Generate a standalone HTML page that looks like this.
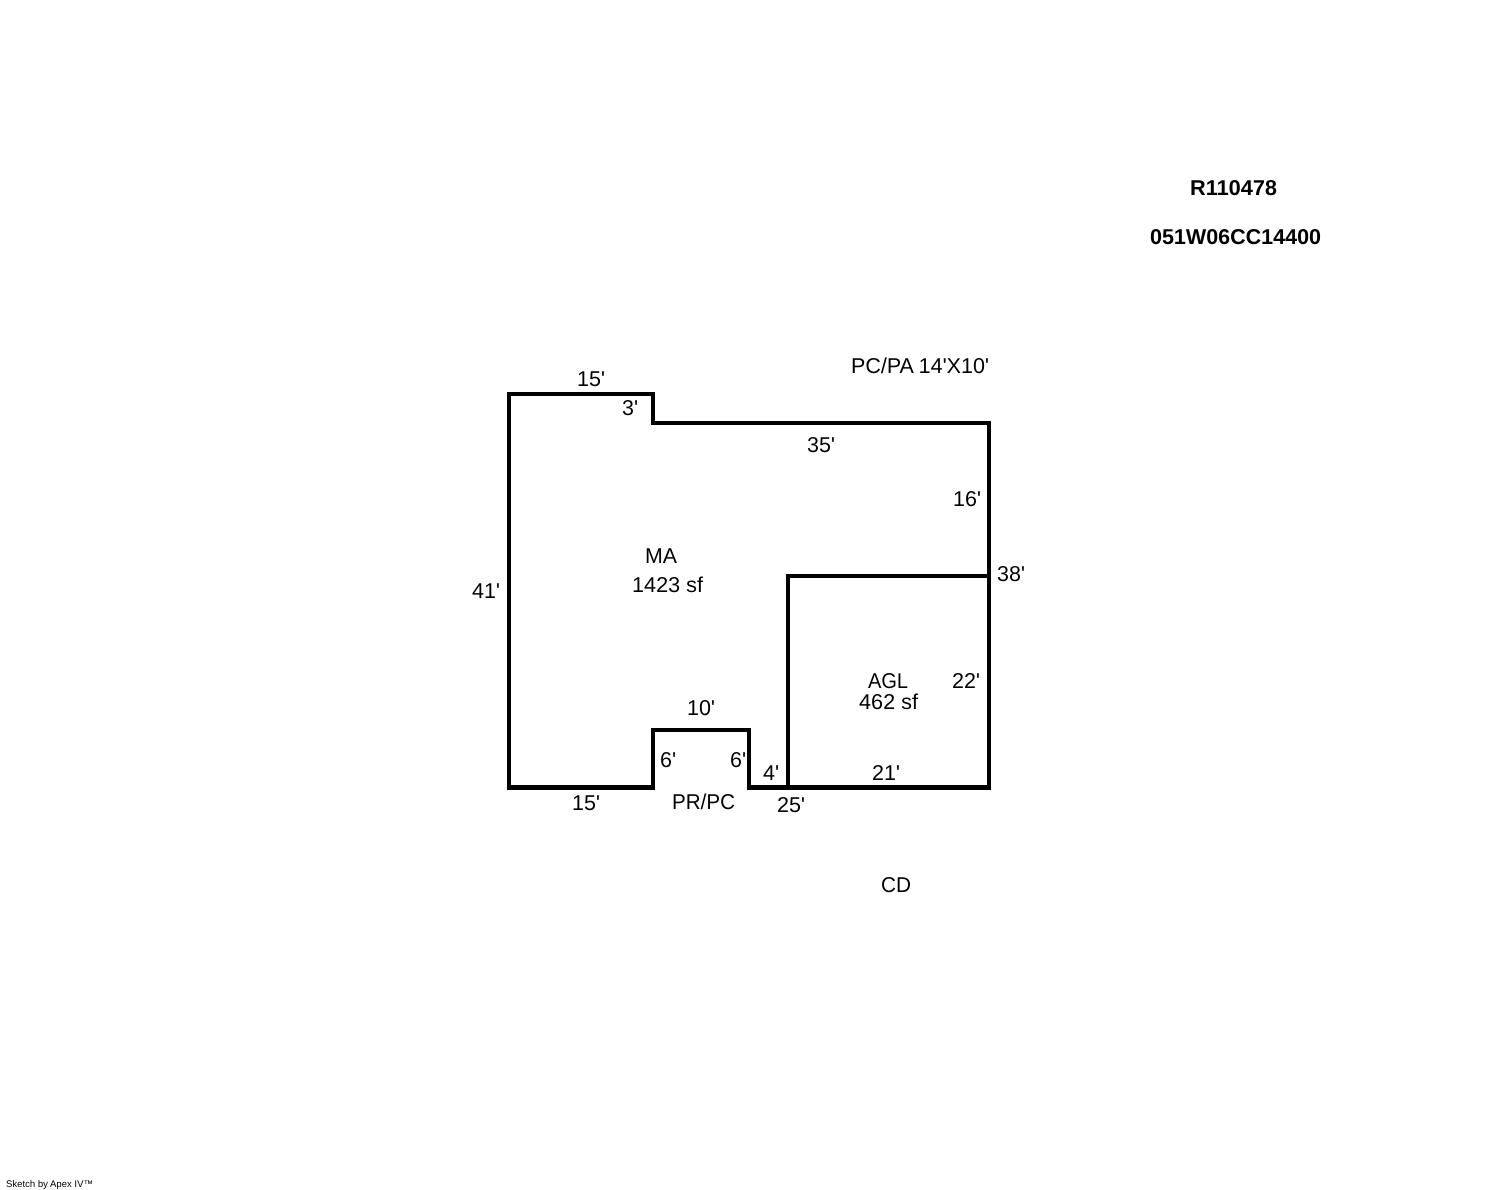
<!DOCTYPE html>
<html>
<head>
<meta charset="utf-8">
<style>
html,body{margin:0;padding:0;background:#fff}
svg{display:block}
text{font-family:"Liberation Sans",Arial,sans-serif;font-size:21.5px;fill:#000;text-rendering:geometricPrecision}
.b{font-weight:bold}
</style>
</head>
<body>
<svg width="1488" height="1190" viewBox="0 0 1488 1190" xmlns="http://www.w3.org/2000/svg">
<rect width="1488" height="1190" fill="#fff"/>
<g fill="#000" shape-rendering="crispEdges">
<rect x="507" y="392" width="4" height="398"/>
<rect x="507" y="392" width="148" height="4"/>
<rect x="651" y="392" width="4" height="33"/>
<rect x="651" y="421" width="340" height="4"/>
<rect x="987" y="421" width="4" height="369"/>
<rect x="507" y="785" width="148" height="5"/>
<rect x="651" y="728" width="4" height="62"/>
<rect x="651" y="728" width="100" height="4"/>
<rect x="747" y="728" width="4" height="62"/>
<rect x="747" y="785" width="244" height="5"/>
<rect x="786" y="574" width="205" height="4"/>
<rect x="786" y="574" width="4" height="216"/>
</g>
<text class="b" x="1190" y="195" textLength="87" lengthAdjust="spacingAndGlyphs">R110478</text>
<text class="b" x="1150" y="244" textLength="171" lengthAdjust="spacingAndGlyphs">051W06CC14400</text>
<text x="851" y="373" textLength="138" lengthAdjust="spacingAndGlyphs">PC/PA 14'X10'</text>
<text x="577" y="386">15'</text>
<text x="622" y="415">3'</text>
<text x="807" y="452">35'</text>
<text x="953" y="506">16'</text>
<text x="997" y="581">38'</text>
<text x="645" y="563" textLength="32" lengthAdjust="spacingAndGlyphs">MA</text>
<text x="632" y="592" textLength="71" lengthAdjust="spacingAndGlyphs">1423 sf</text>
<text x="472" y="598">41'</text>
<text x="868" y="688" textLength="40" lengthAdjust="spacingAndGlyphs">AGL</text>
<text x="859" y="709" textLength="59" lengthAdjust="spacingAndGlyphs">462 sf</text>
<text x="952" y="688">22'</text>
<text x="687" y="715">10'</text>
<text x="660" y="767">6'</text>
<text x="730" y="767">6'</text>
<text x="763" y="780">4'</text>
<text x="872" y="780">21'</text>
<text x="572" y="810">15'</text>
<text x="672" y="809" textLength="63" lengthAdjust="spacingAndGlyphs">PR/PC</text>
<text x="777" y="812">25'</text>
<text x="881" y="892" textLength="30" lengthAdjust="spacingAndGlyphs">CD</text>
<text x="6" y="1187" style="font-size:9.6px" textLength="87" lengthAdjust="spacingAndGlyphs">Sketch by Apex IV™</text>
</svg>
</body>
</html>
